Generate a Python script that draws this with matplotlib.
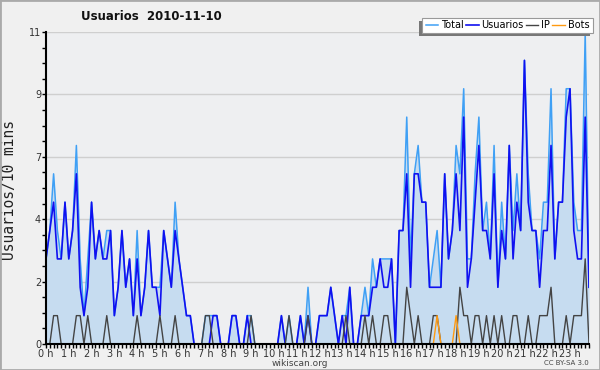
import matplotlib
matplotlib.use("Agg")
import matplotlib.pyplot as plt
from matplotlib.patches import Rectangle
from matplotlib.ticker import FixedLocator, MultipleLocator

# ---------------- data (10-minute bins, 144 per day) ----------------
usuarios = [3,4,5,3,3,5,3,4,6,2,
            1,2,5,3,4,3,3,4,1,2,
            4,2,3,1,3,1,2,4,2,2,
            1,4,3,2,4,3,2,1,1,0,
            0,0,0,0,1,1,0,0,0,1,
            1,0,0,1,0,0,0,0,0,0,
            0,0,1,0,0,0,0,1,0,1,
            0,0,1,1,1,2,1,0,1,0,
            2,0,0,1,1,1,2,2,3,2,
            2,3,0,4,4,6,2,6,6,5,
            5,2,2,2,2,6,3,4,6,4,
            8,2,3,5,7,4,4,3,6,2,
            4,3,7,3,5,4,10,5,4,4,
            2,4,4,7,3,5,5,8,9,4,
            3,3,8,2]
ip = [0,0,1,1,0,0,0,0,1,1,
      0,1,0,0,0,0,1,0,0,0,
      0,0,0,0,1,0,0,0,0,0,
      1,0,0,0,1,0,0,0,0,0,
      0,0,1,1,0,0,0,0,0,0,
      0,0,0,0,1,0,0,0,0,0,
      0,0,0,0,1,0,0,0,0,1,
      0,0,0,0,0,0,0,0,0,1,
      0,0,0,0,1,0,1,0,0,1,
      1,0,0,0,0,2,1,0,1,0,
      0,0,1,1,0,0,0,0,0,2,
      1,1,0,1,1,0,1,0,1,0,
      1,0,0,1,1,0,0,1,0,0,
      1,1,1,2,0,0,0,1,0,1,
      1,1,3,0]
bots = [0]*103 + [1,0,0,0,0,1] + [0]*35
total = [3,4,6,4,3,5,3,4,7,3,
         1,3,5,3,4,3,4,4,1,2,
         4,2,3,1,4,1,2,4,2,2,
         2,4,3,2,5,3,2,1,1,0,
         0,0,1,1,1,1,0,0,0,1,
         1,0,0,1,1,0,0,0,0,0,
         0,0,1,0,1,0,0,1,0,2,
         0,0,1,1,1,2,1,0,1,1,
         2,0,0,1,2,1,3,2,3,3,
         3,3,0,4,4,8,3,6,7,5,
         5,2,3,4,2,6,3,4,7,6,
         9,3,3,6,8,4,5,3,7,2,
         5,3,7,4,6,4,10,6,4,4,
         3,5,5,9,3,5,5,9,9,5,
         4,4,11,2]
hour_labels = [f"{h} h" for h in range(24)]
ytick_vals = [0, 2.2, 4.4, 6.6, 8.8, 11]
ytick_labels = ["0", "2", "4", "7", "9", "11"]
title = "Usuarios  2010-11-10"
ylabel = "Usuarios/10 mins"

# ---------------- figure ----------------
W, H = 600, 370
fig = plt.figure(figsize=(W/100, H/100), dpi=100, facecolor="#f0f0f0")
ax = fig.add_axes([46/W, (H-344)/H, 543/W, 312/H])
ax.set_facecolor("#eeeff1")

x = list(range(len(total)))
ax.fill_between(x, total, 0, color="#c6dcf0", linewidth=0, zorder=1)
l_total, = ax.plot(x, total, color="#3fa0f5", lw=1.1, zorder=2, label="Total")
l_usu, = ax.plot(x, usuarios, color="#1010f0", lw=1.2, zorder=3, label="Usuarios")
l_ip, = ax.plot(x, ip, color="#444444", lw=1.0, zorder=4, label="IP")
l_bots, = ax.plot(x, bots, color="#ff9a10", lw=1.0, zorder=5, label="Bots")

ax.set_xlim(0, len(total) - 1)
ax.set_ylim(0, 11)

for s in ["top", "right"]:
    ax.spines[s].set_visible(False)
for s in ["left", "bottom"]:
    ax.spines[s].set_color("black")
    ax.spines[s].set_linewidth(1.5)
    ax.spines[s].set_zorder(10)

ax.yaxis.set_major_locator(FixedLocator(ytick_vals))
ax.set_yticklabels(ytick_labels)
ax.yaxis.set_minor_locator(MultipleLocator(0.55))
ax.set_xticks(range(0, 144, 6))
ax.set_xticklabels(hour_labels)
ax.xaxis.set_minor_locator(MultipleLocator(1))
ax.tick_params(axis="both", which="major", direction="out", length=3, width=1,
               labelsize=7, colors="black", labelcolor="#333333", pad=0.5)
ax.tick_params(axis="both", which="minor", direction="out", length=3, width=1, colors="black")
ax.grid(axis="y", which="major", color="#cfcfcf", lw=1)
ax.set_axisbelow(True)

fig.text(151/W, 1-17/H, title, ha="center", va="center", fontsize=8.5,
         fontweight="bold", color="#111111")
fig.text(10/W, 1-190/H, ylabel, ha="center", va="center", rotation=90,
         fontsize=10.5, family="DejaVu Sans Mono", color="#222222")
fig.text(300/W, 1-363/H, "wikiscan.org", ha="center", va="center", fontsize=6.5, color="#444444")
fig.text(566/W, 1-363/H, "CC BY-SA 3.0", ha="center", va="center", fontsize=5, color="#444444")

# legend box (frame + shadow drawn as fixed figure patches)
bx0, bx1, by0, by1 = 422, 593, 18, 33   # pixels from top-left
fig.add_artist(Rectangle(((bx0-3)/W, 1-(by1+3)/H), (bx1-bx0)/W, (by1-by0)/H,
                         transform=fig.transFigure, facecolor="#777777",
                         edgecolor="none", zorder=18))
fig.add_artist(Rectangle((bx0/W, 1-by1/H), (bx1-bx0)/W, (by1-by0)/H,
                         transform=fig.transFigure, facecolor="white",
                         edgecolor="#999999", lw=0.8, zorder=19))
leg = fig.legend(handles=[l_total, l_usu, l_ip, l_bots], ncol=4, loc="center",
                 bbox_to_anchor=((bx0+bx1)/2/W, 1-(by0+by1)/2/H), fontsize=7,
                 frameon=False, handlelength=1.3, handletextpad=0.3,
                 columnspacing=0.2, borderpad=0.0, borderaxespad=0)
leg.set_zorder(20)

fig.add_artist(Rectangle((0, 0), 1, 1, transform=fig.transFigure, fill=False,
                         edgecolor="#aaaaaa", lw=2, zorder=30))

fig.savefig("out.png", dpi=100, facecolor=fig.get_facecolor())
